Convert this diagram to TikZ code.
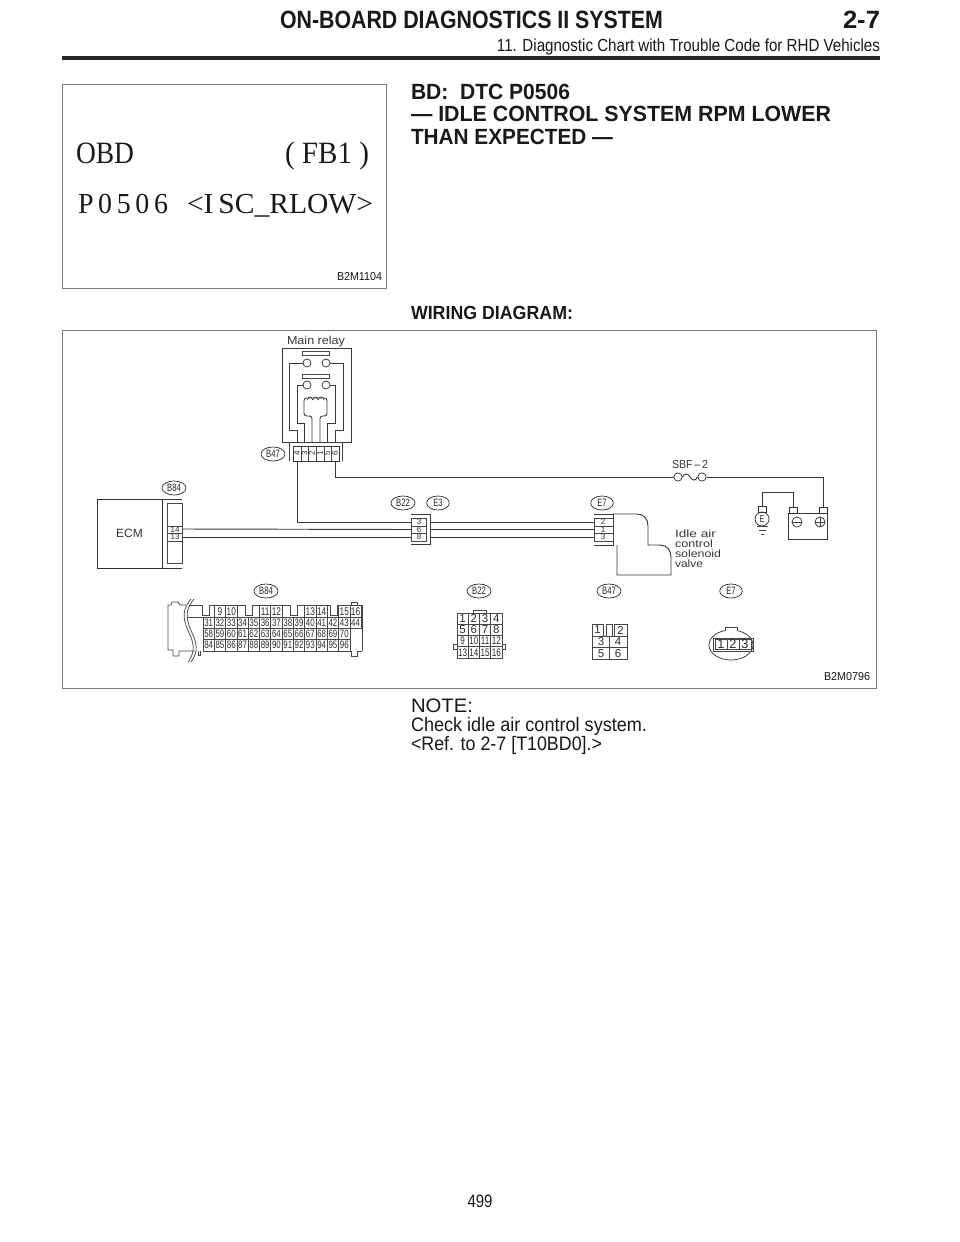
\documentclass[tikz,border=0pt]{standalone}
\usepackage{fontspec}
\usepackage{graphicx}
\setmainfont{Liberation Sans}
\newfontfamily\serifface{Liberation Serif}
\usetikzlibrary{shapes.geometric}
\newlength{\pxu}\setlength{\pxu}{0.75pt}
% \fittxt{width px}{font size px}{text}
\newcommand{\fittxt}[3]{\resizebox{#1\pxu}{\height}{\fontsize{#2\pxu}{#2\pxu}\selectfont #3}}
\newcommand{\nar}[1]{\scalebox{.72}[1]{#1}}
\newcommand{\nnum}[1]{\scalebox{.74}[1]{#1}}
\tikzset{
  wire/.style={draw=black!78,line width=0.7pt},
  thin wire/.style={draw=black!72,line width=0.55pt},
  frame/.style={draw=black!52,line width=0.68pt},
  txt/.style={anchor=base west,inner sep=0pt,outer sep=0pt,text=black!90},
  txtr/.style={anchor=base east,inner sep=0pt,outer sep=0pt,text=black!90},
  pin/.style={inner sep=0pt,outer sep=0pt,text=black!82,font=\fontsize{6pt}{6pt}\selectfont},
  cad/.style={inner sep=0pt,outer sep=0pt,text=black!78},
  tag/.style={draw=black!80,line width=0.55pt,ellipse,minimum width=18pt,minimum height=10.5pt,inner sep=0pt,text=black!85,font=\fontsize{8pt}{8pt}\selectfont},
}
\begin{document}
\begin{tikzpicture}[x=0.75pt,y=-0.75pt]
\useasboundingbox (0,0) rectangle (960,1242);
\fill[white] (0,0) rectangle (960,1242);
% ---------- header
\node[txt] (hdtitle) at (280,29) {\fittxt{383}{25}{\bfseries ON-BOARD DIAGNOSTICS II SYSTEM}};
\node[txtr] (hdnum) at (880,29) {\fittxt{37}{25}{\bfseries 2-7}};
\node[txtr] (hdsub) at (880,51) {\fittxt{383}{17.5}{11. Diagnostic Chart with Trouble Code for RHD Vehicles}};
\draw[black!85,line width=2.4pt] (62,58) -- (880,58);
% ---------- screen figure
\draw[frame] (62,84) rectangle (386,288);
\node[txt] (obd) at (76,163) {\fittxt{58}{31}{\serifface OBD}};
\node[txt] (fb) at (285,163) {\fittxt{84}{31}{\serifface ( FB1 )}};
\node[txt] (code) at (78,213) {\fittxt{90}{29}{\serifface P\,0\,5\,0\,6}};
\node[txt] (isc) at (187,213) {\fittxt{186}{29}{\serifface <I\,SC\_RLOW>}};
\node[txt] (fig1) at (337,280) {\fittxt{45}{11.5}{B2M1104}};
% ---------- title
\node[txt] (t1) at (411,99) {\fittxt{159}{22}{\bfseries BD:\ \ DTC P0506}};
\node[txt] (t2) at (411,121) {\fittxt{420}{22}{\bfseries — IDLE CONTROL SYSTEM RPM LOWER}};
\node[txt] (t3) at (411,144) {\fittxt{202}{22}{\bfseries THAN EXPECTED —}};
\node[txt] (t4) at (411,319) {\fittxt{162}{19}{\bfseries WIRING DIAGRAM:}};
% ---------- wiring frame
\draw[frame] (62,330) rectangle (876,688);
\node[txt] (fig2) at (824,680) {\fittxt{46}{11.5}{B2M0796}};
% ---------- note
\node[txt] (n1) at (411,712) {\fittxt{62}{19.5}{NOTE:}};
\node[txt] (n2) at (411,731) {\fittxt{236}{19.5}{Check idle air control system.}};
\node[txt] (n3) at (411,750) {\fittxt{191}{19.5}{<Ref. to 2-7 [T10BD0].>}};
\node[inner sep=0pt,text=black!90] (pg) at (480,1201) {\fittxt{25}{18}{499}};
% ---------- main relay
\node[cad,anchor=base west] (mrl) at (287,344) {\fittxt{58}{11.5}{Main relay}};
\draw[wire] (282,442) -- (282,348) -- (351,348) -- (351,442) -- cycle;
\draw[thin wire] (302,351) rectangle (329,355);
\draw[thin wire] (302,374) rectangle (329,378);
\foreach \n/\cx/\cy in {ua/307/363,ub/326/363,la/307/385,lb/326/385}
  \node[draw=black!80,line width=0.55pt,circle,minimum size=6pt,inner sep=0pt] (\n) at (\cx,\cy) {};
\coordinate (p1) at (297,442);\coordinate (p2) at (304,442);\coordinate (p3) at (312,442);
\coordinate (p4) at (320,442);\coordinate (p5) at (327,442);\coordinate (p6) at (335,442);
\draw[wire] (ua.west) -- (289,363) -- (289,430) -- (297,430) -- (p1);
\draw[wire] (ub.east) -- (343,363) -- (343,430) -- (335,430) -- (p6);
\draw[wire] (la.west) -- (297,385) -- (297,423) -- (304,423) -- (p2);
\draw[wire] (lb.east) -- (335,385) -- (335,423) -- (327,423) -- (p5);
\draw[wire,rounded corners=2pt] (p3) -- (312,416) -- (304,416) -- (304,398) -- (327,398) -- (327,416) -- (320,416) -- (p4);
\foreach \cx in {310,315.5,321}
  \draw[thin wire] (\cx-2.6,400) arc (180:360:2.6 and 3);
% B47 upper connector
\draw[thin wire] (289,443) -- (289,461);
\draw[thin wire] (342,443) -- (342,461);
\node[draw=black!80,line width=0.55pt,minimum width=34.5pt,minimum height=11.2pt,inner sep=0pt] (b47c) at (316,453.5) {};
\foreach \cx in {301,308,316,324,331} \draw[thin wire] (\cx,446) -- (\cx,461);
\foreach \cx/\t in {297/4,304.5/3,312/2,320/1,327.5/5,335/6}
  \node[pin,rotate=90] at (\cx,453.5) {\t};
\node[tag] (tagb47) at (273,454) {\nar{B47}};
% ---------- ECM
\node[draw=black!80,line width=0.7pt,minimum width=48.75pt,minimum height=51.75pt,inner sep=0pt,text=black!80,font=\fontsize{9pt}{9pt}\selectfont] (ecm) at (129.5,533.5) {ECM};
\draw[wire] (162,499) -- (182,499);
\draw[wire] (162,568) -- (182,568);
\draw[thin wire] (167,503) rectangle (182,563);
\draw[thin wire] (167,526) -- (182,526);
\draw[thin wire] (167,533) -- (182,533);
\draw[thin wire] (167,541) -- (182,541);
\node[pin] (e14) at (175,529.5) {14};
\node[pin] (e13) at (175,537.2) {13};
\coordinate (ecmA) at (182,529);\coordinate (ecmB) at (182,537);
\node[tag] (tagb84) at (174,488) {\nar{B84}};
% ---------- B22/E3 joint
\draw[wire] (411,514) -- (430,514) -- (430,544) -- (411,544);
\draw[thin wire] (411,518) rectangle (426,541);
\draw[thin wire] (411,526) -- (426,526);
\draw[thin wire] (411,533) -- (426,533);
\node[pin] at (419,522) {3};
\node[pin] at (419,529.6) {6};
\node[pin] at (419,537.2) {8};
\coordinate (jl1) at (411,522);\coordinate (jl2) at (411,529.5);\coordinate (jl3) at (411,537);
\coordinate (jr1) at (430,522);\coordinate (jr2) at (430,529.5);\coordinate (jr3) at (430,537);
\node[tag] (tagb22) at (403,503) {\nar{B22}};
\node[tag,minimum width=17pt] (tage3) at (438,503) {\nar{E3}};
% ---------- E7 joint and valve
\draw[wire] (594,514) -- (613,514) -- (613,545) -- (594,545);
\draw[thin wire] (594,518) rectangle (613,541);
\draw[thin wire] (594,526) -- (613,526);
\draw[thin wire] (594,533) -- (613,533);
\node[pin] at (603,522) {2};
\node[pin] at (603,529.6) {1};
\node[pin] at (603,537.2) {3};
\coordinate (vl1) at (594,522);\coordinate (vl2) at (594,529.5);\coordinate (vl3) at (594,537);
\node[tag,minimum width=17pt] (tage7) at (602,503) {\nar{E7}};
\draw[wire] (613,514) -- (637,514) .. controls (644,514) and (648,519) .. (648,526) -- (648,545) -- (660,545) .. controls (667,545) and (671,550) .. (671,557) -- (671,575) -- (617,575) -- (617,545);
\foreach \lb/\yy/\ww/\tx in {va/537/41/Idle air,vb/547/38/control,vc/557/46/solenoid,vd/567/28/valve}
  \node[cad,anchor=base west] (\lb) at (675,\yy) {\fittxt{\ww}{10.5}{\tx}};
% ---------- wires
\draw[wire] (ecmA) -- (jl2);
\draw[wire] (ecmB) -- (jl3);
\draw[wire] (jr1) -- (vl1);
\draw[wire] (jr2) -- (vl2);
\draw[wire] (jr3) -- (vl3);
\draw[wire] (297,461) -- (297,522) -- (jl1);
% ---------- fuse
\node[draw=black!80,line width=0.55pt,circle,minimum size=6.2pt,inner sep=0pt] (fa) at (678,477) {};
\node[draw=black!80,line width=0.55pt,circle,minimum size=6.2pt,inner sep=0pt] (fb2) at (702,477) {};
\draw[wire] (335,461) -- (335,477) -- (fa.west);
\draw[wire] (fa.east) .. controls (685,472) and (688,474) .. (690,477) .. controls (692,480) and (695,482) .. (fb2.west);
\node[cad,anchor=base west] (sbf) at (672,468) {\fittxt{36}{11.5}{SBF\,--\,2}};
% ---------- battery
\draw[wire] (788,513) rectangle (827,539);
\node[draw=black!80,line width=0.55pt,minimum width=6pt,minimum height=4.5pt,inner sep=0pt] (tn) at (793,510) {};
\node[draw=black!80,line width=0.55pt,minimum width=6pt,minimum height=4.5pt,inner sep=0pt] (tp) at (823,510) {};
\node[draw=black!80,line width=0.55pt,circle,minimum size=7.5pt,inner sep=0pt] (minus) at (797,522) {};
\node[draw=black!80,line width=0.55pt,circle,minimum size=7.5pt,inner sep=0pt] (plus) at (820,522) {};
\draw[thin wire] (minus.west) -- (minus.east);
\draw[thin wire] (plus.west) -- (plus.east);
\draw[thin wire] (plus.north) -- (plus.south);
\draw[wire] (fb2.east) -- (823,477) -- (tp.north);
% ---------- earth
\node[draw=black!80,line width=0.55pt,minimum width=6pt,minimum height=4pt,inner sep=0pt] (ecap) at (762,509.5) {};
\node[draw=black!80,line width=0.55pt,circle,minimum size=10.5pt,inner sep=0pt,font=\fontsize{7.5pt}{7.5pt}\selectfont,text=black!80] (earth) at (762,519) {\nar{E}};
\draw[wire] (tn.north) -- (793,492) -- (762,492) -- (ecap.north);
\draw[thin wire] (757,526) -- (768,526);
\draw[thin wire] (759,530) -- (766,530);
\draw[thin wire] (761,534) -- (764,534);
% ---------- lower labels
\node[tag] (tlb84) at (266,591) {\nar{B84}};
\node[tag] (tlb22) at (479,591) {\nar{B22}};
\node[tag] (tlb47) at (609,591) {\nar{B47}};
\node[tag,minimum width=17pt] (tle7) at (731,591) {\nar{E7}};
% ---------- big B84 connector
\def\xo{203}\def\cw{11.3}
\draw[thin wire] (186,605) -- (180,605) -- (178,602) -- (172,602) -- (171,605) -- (168,605) -- (168,650) -- (173,650) -- (173,656) -- (179,656) -- (179,651) -- (195,651);
\draw[thin wire] (189,605) -- (202,605);
\draw[thin wire] (187,617) -- (203,617);
\draw[thin wire] (191,599) .. controls (180,612) and (184,622) .. (190,635) .. controls (195,646) and (194,654) .. (188,662);
\draw[thin wire] (194,599) .. controls (183,612) and (187,622) .. (193,635) .. controls (198,646) and (197,654) .. (191,662);
\draw[thin wire] (198,651) -- (198,655) -- (200,655) -- (200,651);
% top outline with notches
\draw[thin wire] (202,605) -- (202,615) -- (209,615) -- (209,605) -- (245,605) -- (245,615) -- (252,615) -- (252,605) -- (290,605) -- (290,615) -- (297,615) -- (297,605) -- (330,605) -- (330,615) -- (337,615) -- (337,605) -- (362,605) -- (362,651);
\draw[thin wire] (351,605) -- (351,602.5) -- (357,602.5) -- (357,605);
\draw[thin wire] (351,651) -- (351,656) -- (357,656) -- (357,651) -- (362,651);
% top numbers
\foreach \i/\t in {1/9,2/10,5/11,6/12,9/13,10/14,12/15,13/16}{
  \draw[thin wire] ({\xo+\i*\cw},605) rectangle ({\xo+(\i+1)*\cw},617);
  \node[pin,font=\fontsize{8.4pt}{8.4pt}\selectfont] at ({\xo+(\i+.5)*\cw},611.3) {\nnum{\t}};
}
\draw[thin wire] (203,617) -- (362,617);
% row 31..44
\foreach \i [evaluate=\i as \t using int(31+\i)] in {0,...,13}{
  \draw[thin wire] ({\xo+\i*\cw},617) rectangle ({\xo+(\i+1)*\cw},628);
  \node[pin,font=\fontsize{8pt}{8pt}\selectfont] at ({\xo+(\i+.5)*\cw},622.6) {\nnum{\t}};
}
\foreach \i [evaluate=\i as \t using int(58+\i)] in {0,...,12}{
  \draw[thin wire] ({\xo+\i*\cw},628) rectangle ({\xo+(\i+1)*\cw},639);
  \node[pin,font=\fontsize{8pt}{8pt}\selectfont] at ({\xo+(\i+.5)*\cw},633.6) {\nnum{\t}};
}
\foreach \i [evaluate=\i as \t using int(84+\i)] in {0,...,12}{
  \draw[thin wire] ({\xo+\i*\cw},639) rectangle ({\xo+(\i+1)*\cw},651);
  \node[pin,font=\fontsize{8pt}{8pt}\selectfont] at ({\xo+(\i+.5)*\cw},645) {\nnum{\t}};
}
% ---------- lower B22
\draw[thin wire] (473,613) -- (473,610) -- (486,610) -- (486,613);
\draw[thin wire] (457,644) -- (453,644) -- (453,649) -- (457,649);
\draw[thin wire] (502,644) -- (505,644) -- (505,649) -- (502,649);
\foreach \r in {0,1,2,3}\foreach \c in {0,1,2,3}{
  \draw[thin wire] ({457+\c*11.25},{613+\r*11.25}) rectangle ({457+(\c+1)*11.25},{613+(\r+1)*11.25});
  \pgfmathtruncatemacro{\num}{\r*4+\c+1}
  \ifnum\num>8
    \node[pin,font=\fontsize{8.2pt}{8.2pt}\selectfont] at ({457+(\c+.5)*11.25},{613+(\r+.5)*11.25}) {\nnum{\num}};
  \else
    \node[pin,font=\fontsize{8.6pt}{8.6pt}\selectfont] at ({457+(\c+.5)*11.25},{613+(\r+.5)*11.25}) {\num};
  \fi
}
% ---------- lower B47
\draw[thin wire] (592,636) rectangle (627,659);
\draw[thin wire] (592,647.5) -- (627,647.5);
\draw[thin wire] (609.5,636) -- (609.5,659);
\draw[thin wire] (592,624) rectangle (603.5,636);
\draw[thin wire] (606,624) rectangle (612,636);
\draw[thin wire] (614,624) rectangle (627,636);
\foreach \cx/\cy/\t in {597.5/630/1,620.5/630/2,601/642/3,618/642/4,601/653.5/5,618/653.5/6}
  \node[pin,font=\fontsize{8.6pt}{8.6pt}\selectfont] at (\cx,\cy) {\t};
% ---------- lower E7
\node[draw=black!80,line width=0.55pt,ellipse,minimum width=33pt,minimum height=22.5pt,inner sep=0pt] (e7body) at (731,645) {};
\draw[thin wire,fill=white] (725,631) -- (725,627.5) -- (737,627.5) -- (737,631);
\draw[thin wire] (713,638) rectangle (753,651);
\draw[thin wire] (715,639.5) rectangle (751,649.5);
\draw[thin wire] (727,639.5) -- (727,649.5);
\draw[thin wire] (739,639.5) -- (739,649.5);
\foreach \cx/\t in {721/1,733/2,745/3}
  \node[pin,font=\fontsize{9.6pt}{9.6pt}\selectfont] at (\cx,644.5) {\t};
\end{tikzpicture}
\end{document}
